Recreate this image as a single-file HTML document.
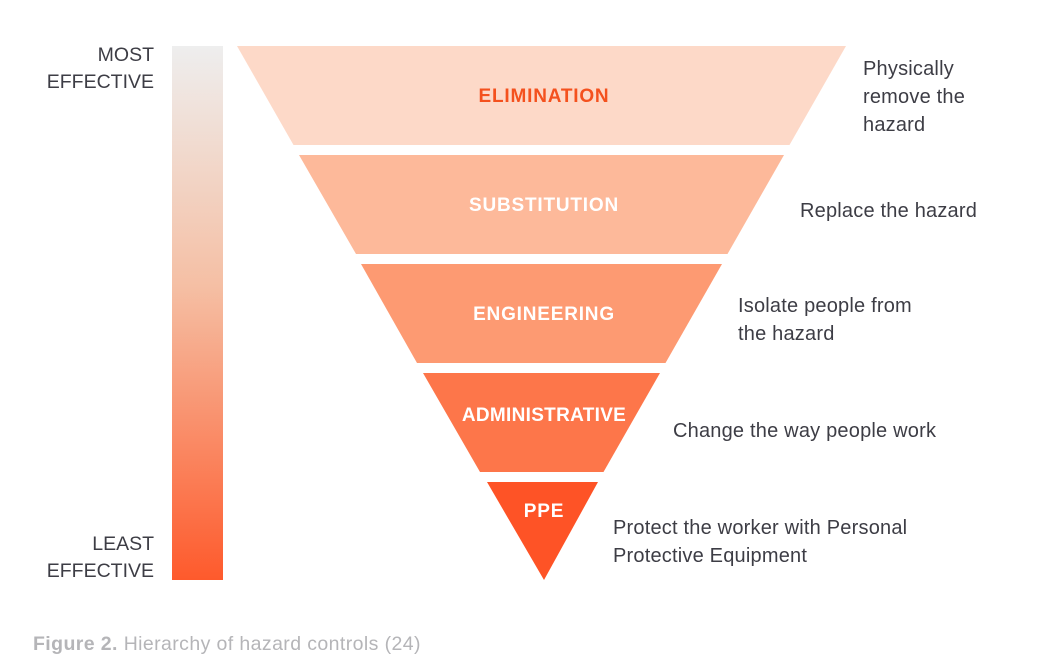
<!DOCTYPE html>
<html><head><style>
body{margin:0;width:1056px;height:669px;background:#fff;overflow:hidden;font-family:"Liberation Sans",sans-serif;}
.t{position:absolute;color:#3d3d45;font-size:20px;line-height:28px;letter-spacing:0.2px;}
</style></head><body>
<div style="position:absolute;left:172px;top:46px;width:51px;height:534px;background:linear-gradient(#eeeeee,#f5bfa4 45%,#fe5a2c)"></div>
<div class="t" style="left:10px;top:42px;width:144px;text-align:right;line-height:27px;font-size:19.5px;letter-spacing:0">MOST<br>EFFECTIVE</div>
<div class="t" style="left:10px;top:531px;width:144px;text-align:right;line-height:27px;font-size:19.5px;letter-spacing:0">LEAST<br>EFFECTIVE</div>
<svg width="1056" height="669" style="position:absolute;left:0;top:0">
<polygon points="237,46 846,46 789.5,145 293.5,145" fill="#fdd9c8"/>
<polygon points="299,155 784,155 727.5,254 356,254" fill="#fdb99a"/>
<polygon points="361,264 722,264 665.5,363 417,363" fill="#fd9a72"/>
<polygon points="423,373 660,373 603.5,472 480,472" fill="#fd764a"/>
<polygon points="487,482 598,482 544,580" fill="#fe5326"/>
<g font-family="Liberation Sans, sans-serif" font-weight="bold" font-size="19" letter-spacing="0.8" text-anchor="middle">
<text x="544" y="102" fill="#f4511e">ELIMINATION</text>
<text x="544" y="211" fill="#fff">SUBSTITUTION</text>
<text x="544" y="320" fill="#fff">ENGINEERING</text>
<text x="544" y="421" fill="#fff" letter-spacing="0.3">ADMINISTRATIVE</text>
<text x="544" y="517" fill="#fff">PPE</text>
</g>
</svg>
<div class="t" style="left:863px;top:55px">Physically<br>remove the<br>hazard</div>
<div class="t" style="left:800px;top:197px">Replace the hazard</div>
<div class="t" style="left:738px;top:292px">Isolate people from<br>the hazard</div>
<div class="t" style="left:673px;top:417px">Change the way people work</div>
<div class="t" style="left:613px;top:514px">Protect the worker with Personal<br>Protective Equipment</div>
<div style="position:absolute;left:33px;top:633px;font-size:19.5px;letter-spacing:0.4px;color:#b5b5b8"><b>Figure 2.</b> Hierarchy of hazard controls (24)</div>
</body></html>
